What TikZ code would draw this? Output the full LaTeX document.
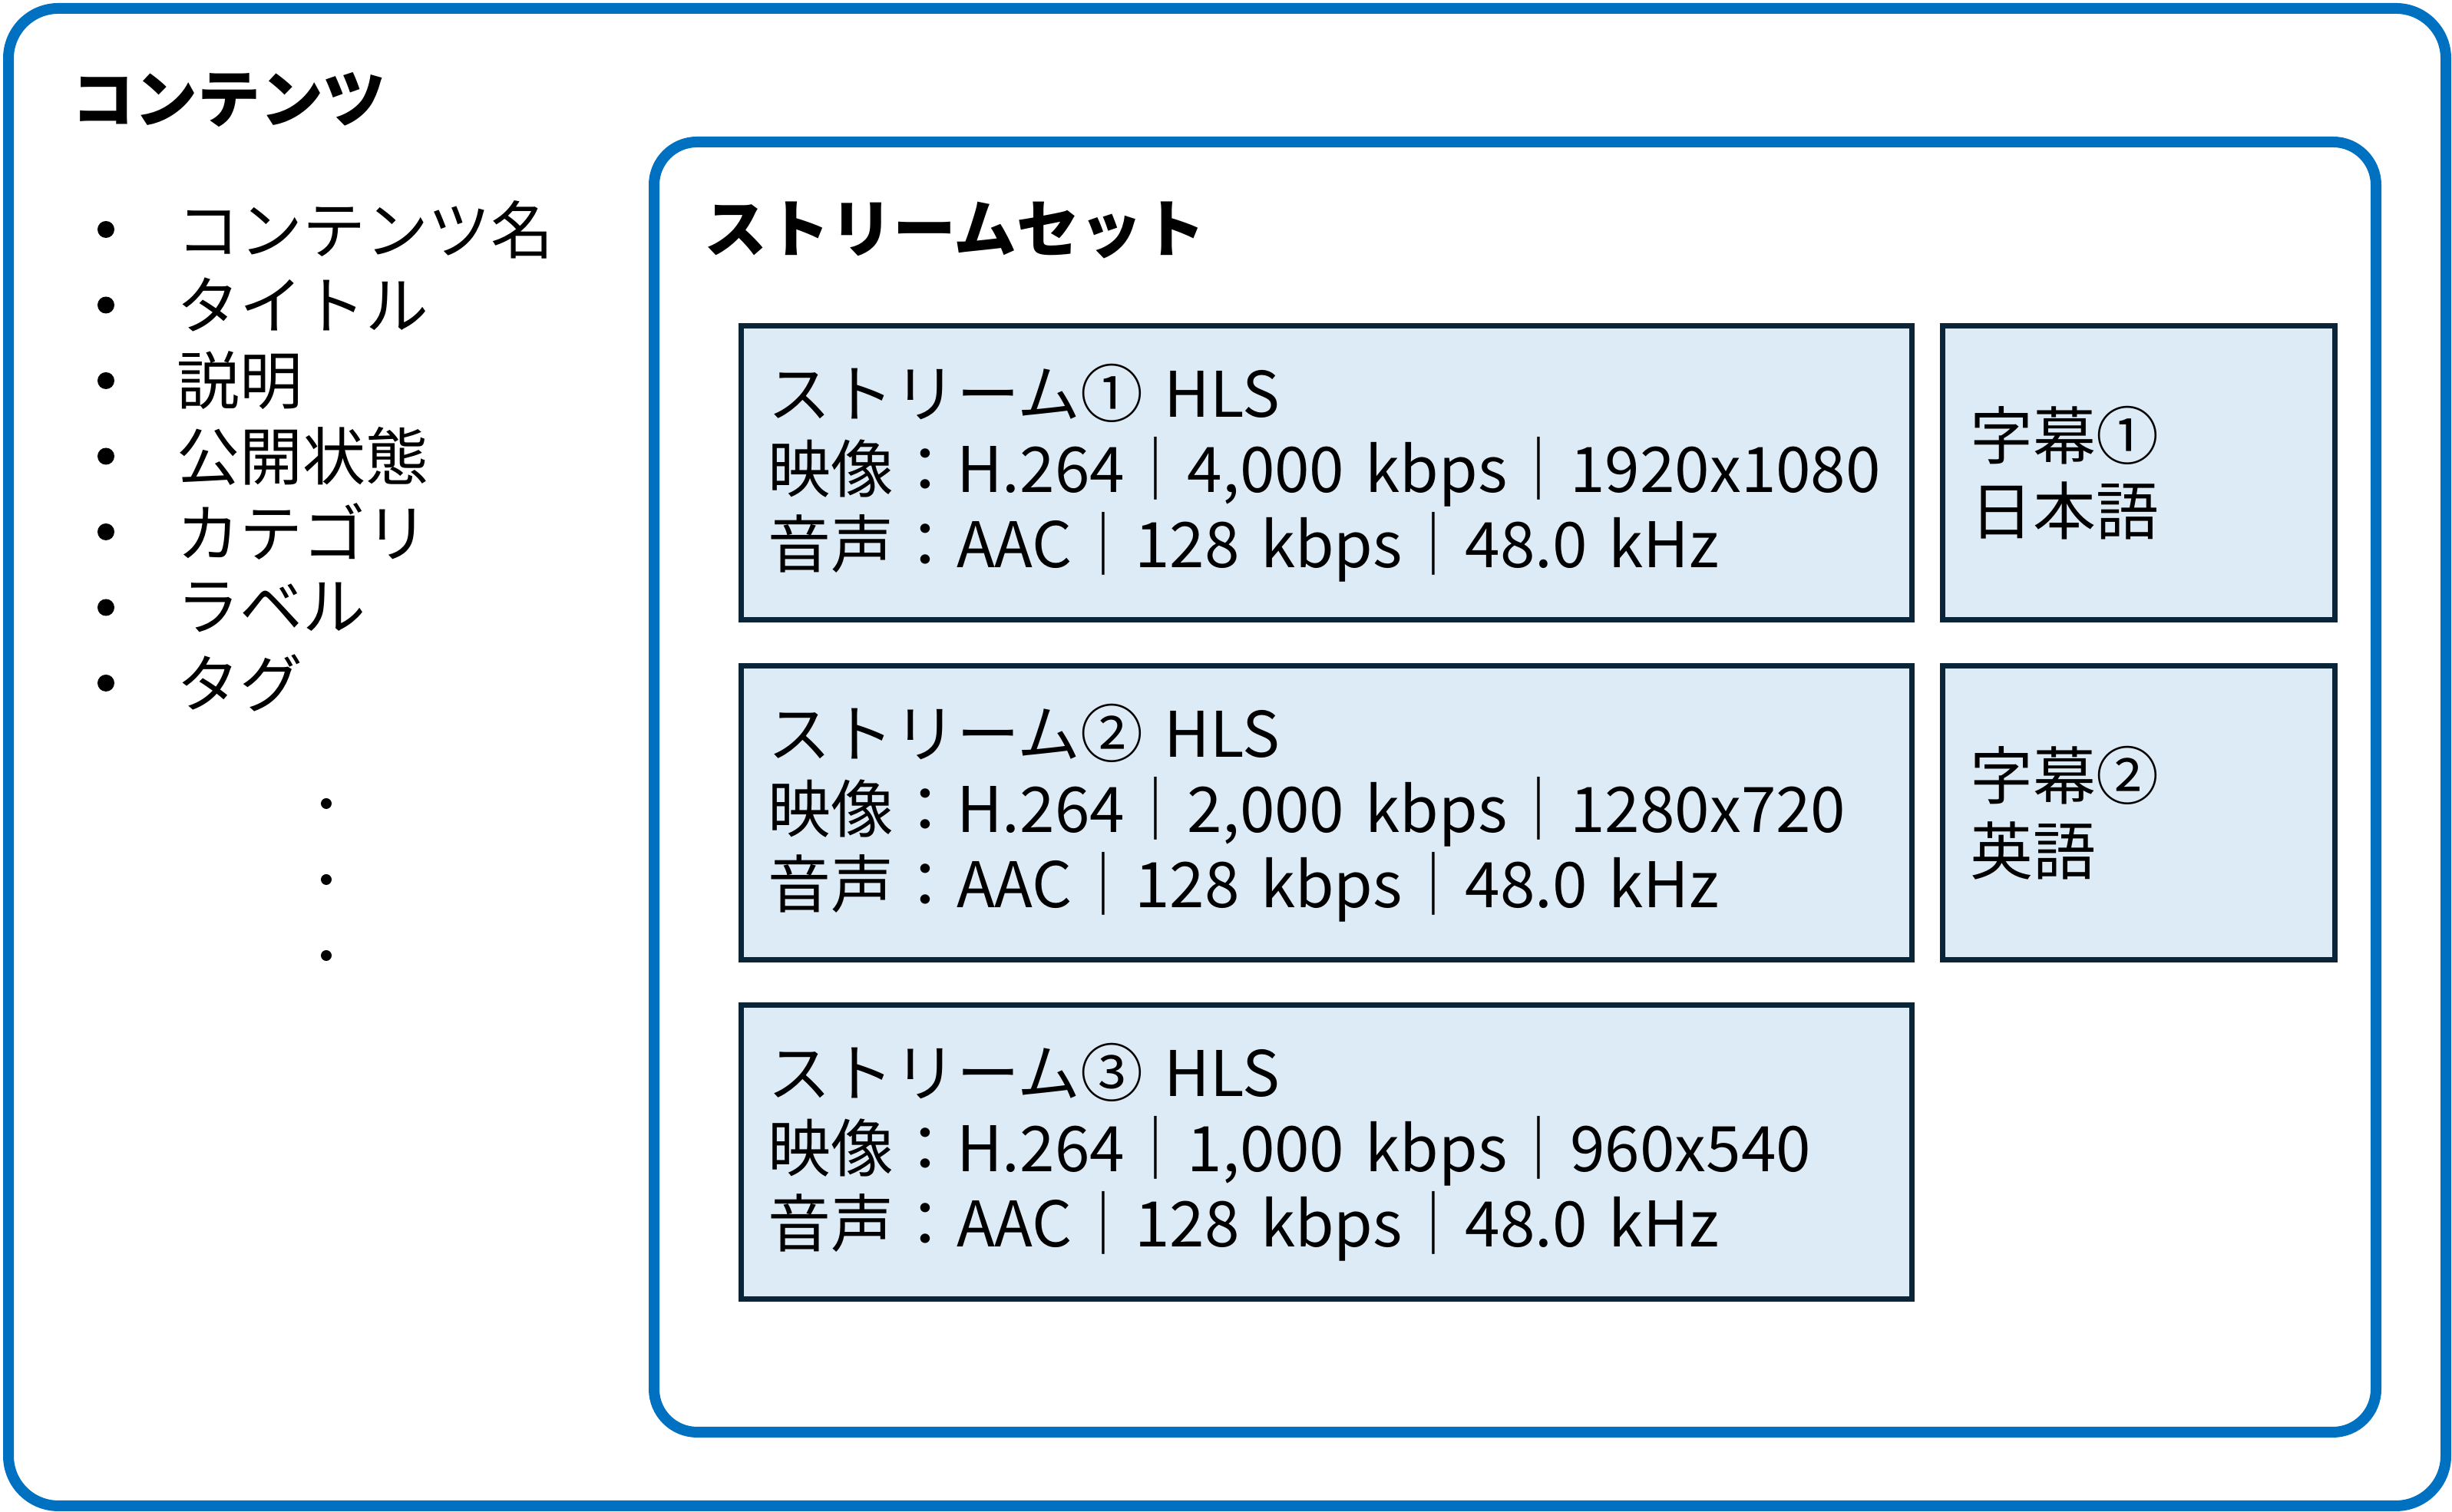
\documentclass[tikz,border=0pt]{standalone}
\usepackage{fontspec}
\setmainfont{Noto Sans CJK JP}
\usetikzlibrary{positioning}
\definecolor{rahmenblau}{HTML}{0070C0}
\definecolor{kastenblau}{HTML}{DDEBF7}
\definecolor{kastenrand}{HTML}{0B2538}
\newcommand\schrift{\fontsize{23.3}{27.9}\selectfont}

\begin{document}
\begin{tikzpicture}[font=\schrift,
	rahmen/.style={draw=rahmenblau, line width=0.14cm},
	stream/.style={draw=kastenrand, fill=kastenblau, line width=0.07cm, minimum width=15.25cm, minimum height=3.83cm, text width=14.55cm, align=left, inner sep=0pt},
	untertitel/.style={stream, minimum width=5.105cm, text width=4.38cm},
	punkt/.style={circle, fill, inner sep=0pt, minimum size=#1},
	node distance=0.525cm and 0.33cm]
	\useasboundingbox (0,0) rectangle (31.94,19.70);
	\draw[rahmen, rounded corners=0.65cm] (0.11,0.08) rectangle (31.86,19.59);%Rahmen Inhalt
	\draw[rahmen, rounded corners=0.56cm] (8.52,1.04) rectangle (30.95,17.85);%Rahmen Streamset

	\node[anchor=west, font=\schrift\bfseries] (inhalt) at (0.81,18.40) {コンテンツ};
	\node[anchor=west, font=\schrift\bfseries] (streamset) at (9.05,16.70) {ストリームセット};

	\node[punkt=0.22cm] (p1) at (1.38,16.71) {};%Aufzaehlung
	\node[punkt=0.22cm] (p2) at (1.38,15.725) {};
	\node[punkt=0.22cm] (p3) at (1.38,14.74) {};
	\node[punkt=0.22cm] (p4) at (1.38,13.755) {};
	\node[punkt=0.22cm] (p5) at (1.38,12.77) {};
	\node[punkt=0.22cm] (p6) at (1.38,11.785) {};
	\node[punkt=0.22cm] (p7) at (1.38,10.80) {};
	\node[anchor=west] (t1) at (2.18,16.71) {コンテンツ名};
	\node[anchor=west] (t2) at (2.18,15.725) {タイトル};
	\node[anchor=west] (t3) at (2.18,14.74) {説明};
	\node[anchor=west] (t4) at (2.18,13.755) {公開状態};
	\node[anchor=west] (t5) at (2.18,12.77) {カテゴリ};
	\node[anchor=west] (t6) at (2.18,11.785) {ラベル};
	\node[anchor=west] (t7) at (2.18,10.80) {タグ};
	\node[punkt=0.14cm] (d1) at (4.25,9.23) {};%Auslassung
	\node[punkt=0.14cm] (d2) at (4.25,8.24) {};
	\node[punkt=0.14cm] (d3) at (4.25,7.25) {};

	\node[stream] (s1) at (17.28,13.535) {ストリーム① HLS\\映像：H.264｜4,000~kbps｜1920x1080\\音声：AAC｜128~kbps｜48.0~kHz};
	\node[stream, below=of s1] (s2) {ストリーム② HLS\\映像：H.264｜2,000~kbps｜1280x720\\音声：AAC｜128~kbps｜48.0~kHz};
	\node[stream, below=of s2] (s3) {ストリーム③ HLS\\映像：H.264｜1,000~kbps｜960x540\\音声：AAC｜128~kbps｜48.0~kHz};
	\node[untertitel, right=of s1] (u1) {字幕①\\日本語};
	\node[untertitel, right=of s2] (u2) {字幕②\\英語};

\end{tikzpicture}
\end{document}
